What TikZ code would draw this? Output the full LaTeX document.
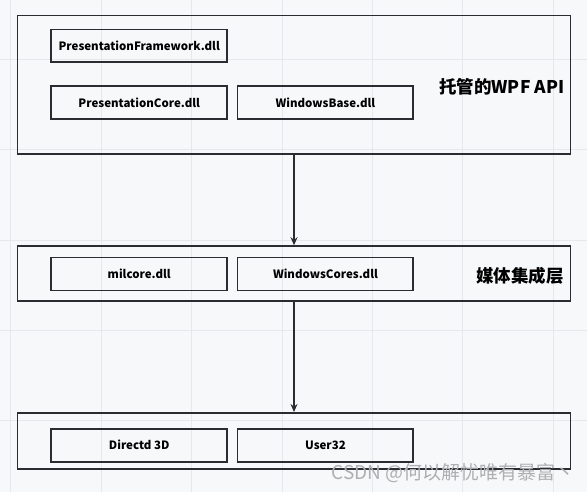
\documentclass[tikz,border=0pt]{standalone}
\usepackage{fontspec}
\setmainfont{Noto Sans CJK SC}
\usetikzlibrary{arrows.meta}
\usetikzlibrary{positioning}
\definecolor{mbg}{RGB}{247,248,250}
\definecolor{mgrid}{RGB}{230,232,236}
\definecolor{mline}{RGB}{42,44,50}
\definecolor{mmark}{RGB}{175,175,178}
\tikzset{layer/.style = {draw = mline, line width = 1.7pt, inner sep = 0, minimum width = 554}}
\tikzset{dll/.style = {draw = mline, line width = 1.7pt, inner sep = 0, minimum width = 176, minimum height = 33, font = \fontsize{11.5}{13}\selectfont\bfseries}}
\tikzset{tag/.style = {inner sep = 0, font = \fontsize{17.5}{19}\selectfont\bfseries}}
\tikzset{flow/.style = {draw = mline, line width = 2pt, -{Stealth[length = 8pt, width = 7pt]}}}

\begin{document}
\begin{tikzpicture}[x=1pt, y=-1pt]
  \fill [mbg] (0, 0) rectangle (587, 492);
  \foreach \gx in {10.5, 101, 191.5, 282, 372.5, 463, 553.5}
    \draw [mgrid, line width = 0.8pt] (\gx, 0) -- (\gx, 492);
  \foreach \gy in {59, 149.5, 240, 330.5, 421}
    \draw [mgrid, line width = 0.8pt] (0, \gy) -- (587, \gy);

  \node [layer, minimum height = 139] (wpf) at (294, 84.5) {};
  \node [layer, minimum height = 55] (media) at (294, 273.5) {};
  \node [layer, minimum height = 56] (os) at (294, 441) {};

  \node [dll] (pf) at (139, 45.5) {PresentationFramework.dll};
  \node [dll] (pc) at (139, 102.5) {PresentationCore.dll};
  \node [dll] (wb) at (325.5, 102.5) {WindowsBase.dll};
  \node [dll] (mil) at (139, 274) {milcore.dll};
  \node [dll] (wc) at (325.5, 274) {WindowsCores.dll};
  \node [dll] (d3d) at (139, 445.5) {Directd 3D};
  \node [dll] (u32) at (325.5, 445.5) {User32};

  \node [tag] (wpftag) at (502, 87) {托管的WPF API};
  \node [tag] (mediatag) at (520.5, 276) {媒体集成层};

  \draw [flow] (wpf.south) -- (media.north);
  \draw [flow] (media.south) -- (os.north);

  \node [mmark, anchor = east, inner sep = 0, font = \fontsize{19}{21}\selectfont] (mark) at (575, 473) {CSDN @何以解忧唯有暴富丶};
\end{tikzpicture}
\end{document}
